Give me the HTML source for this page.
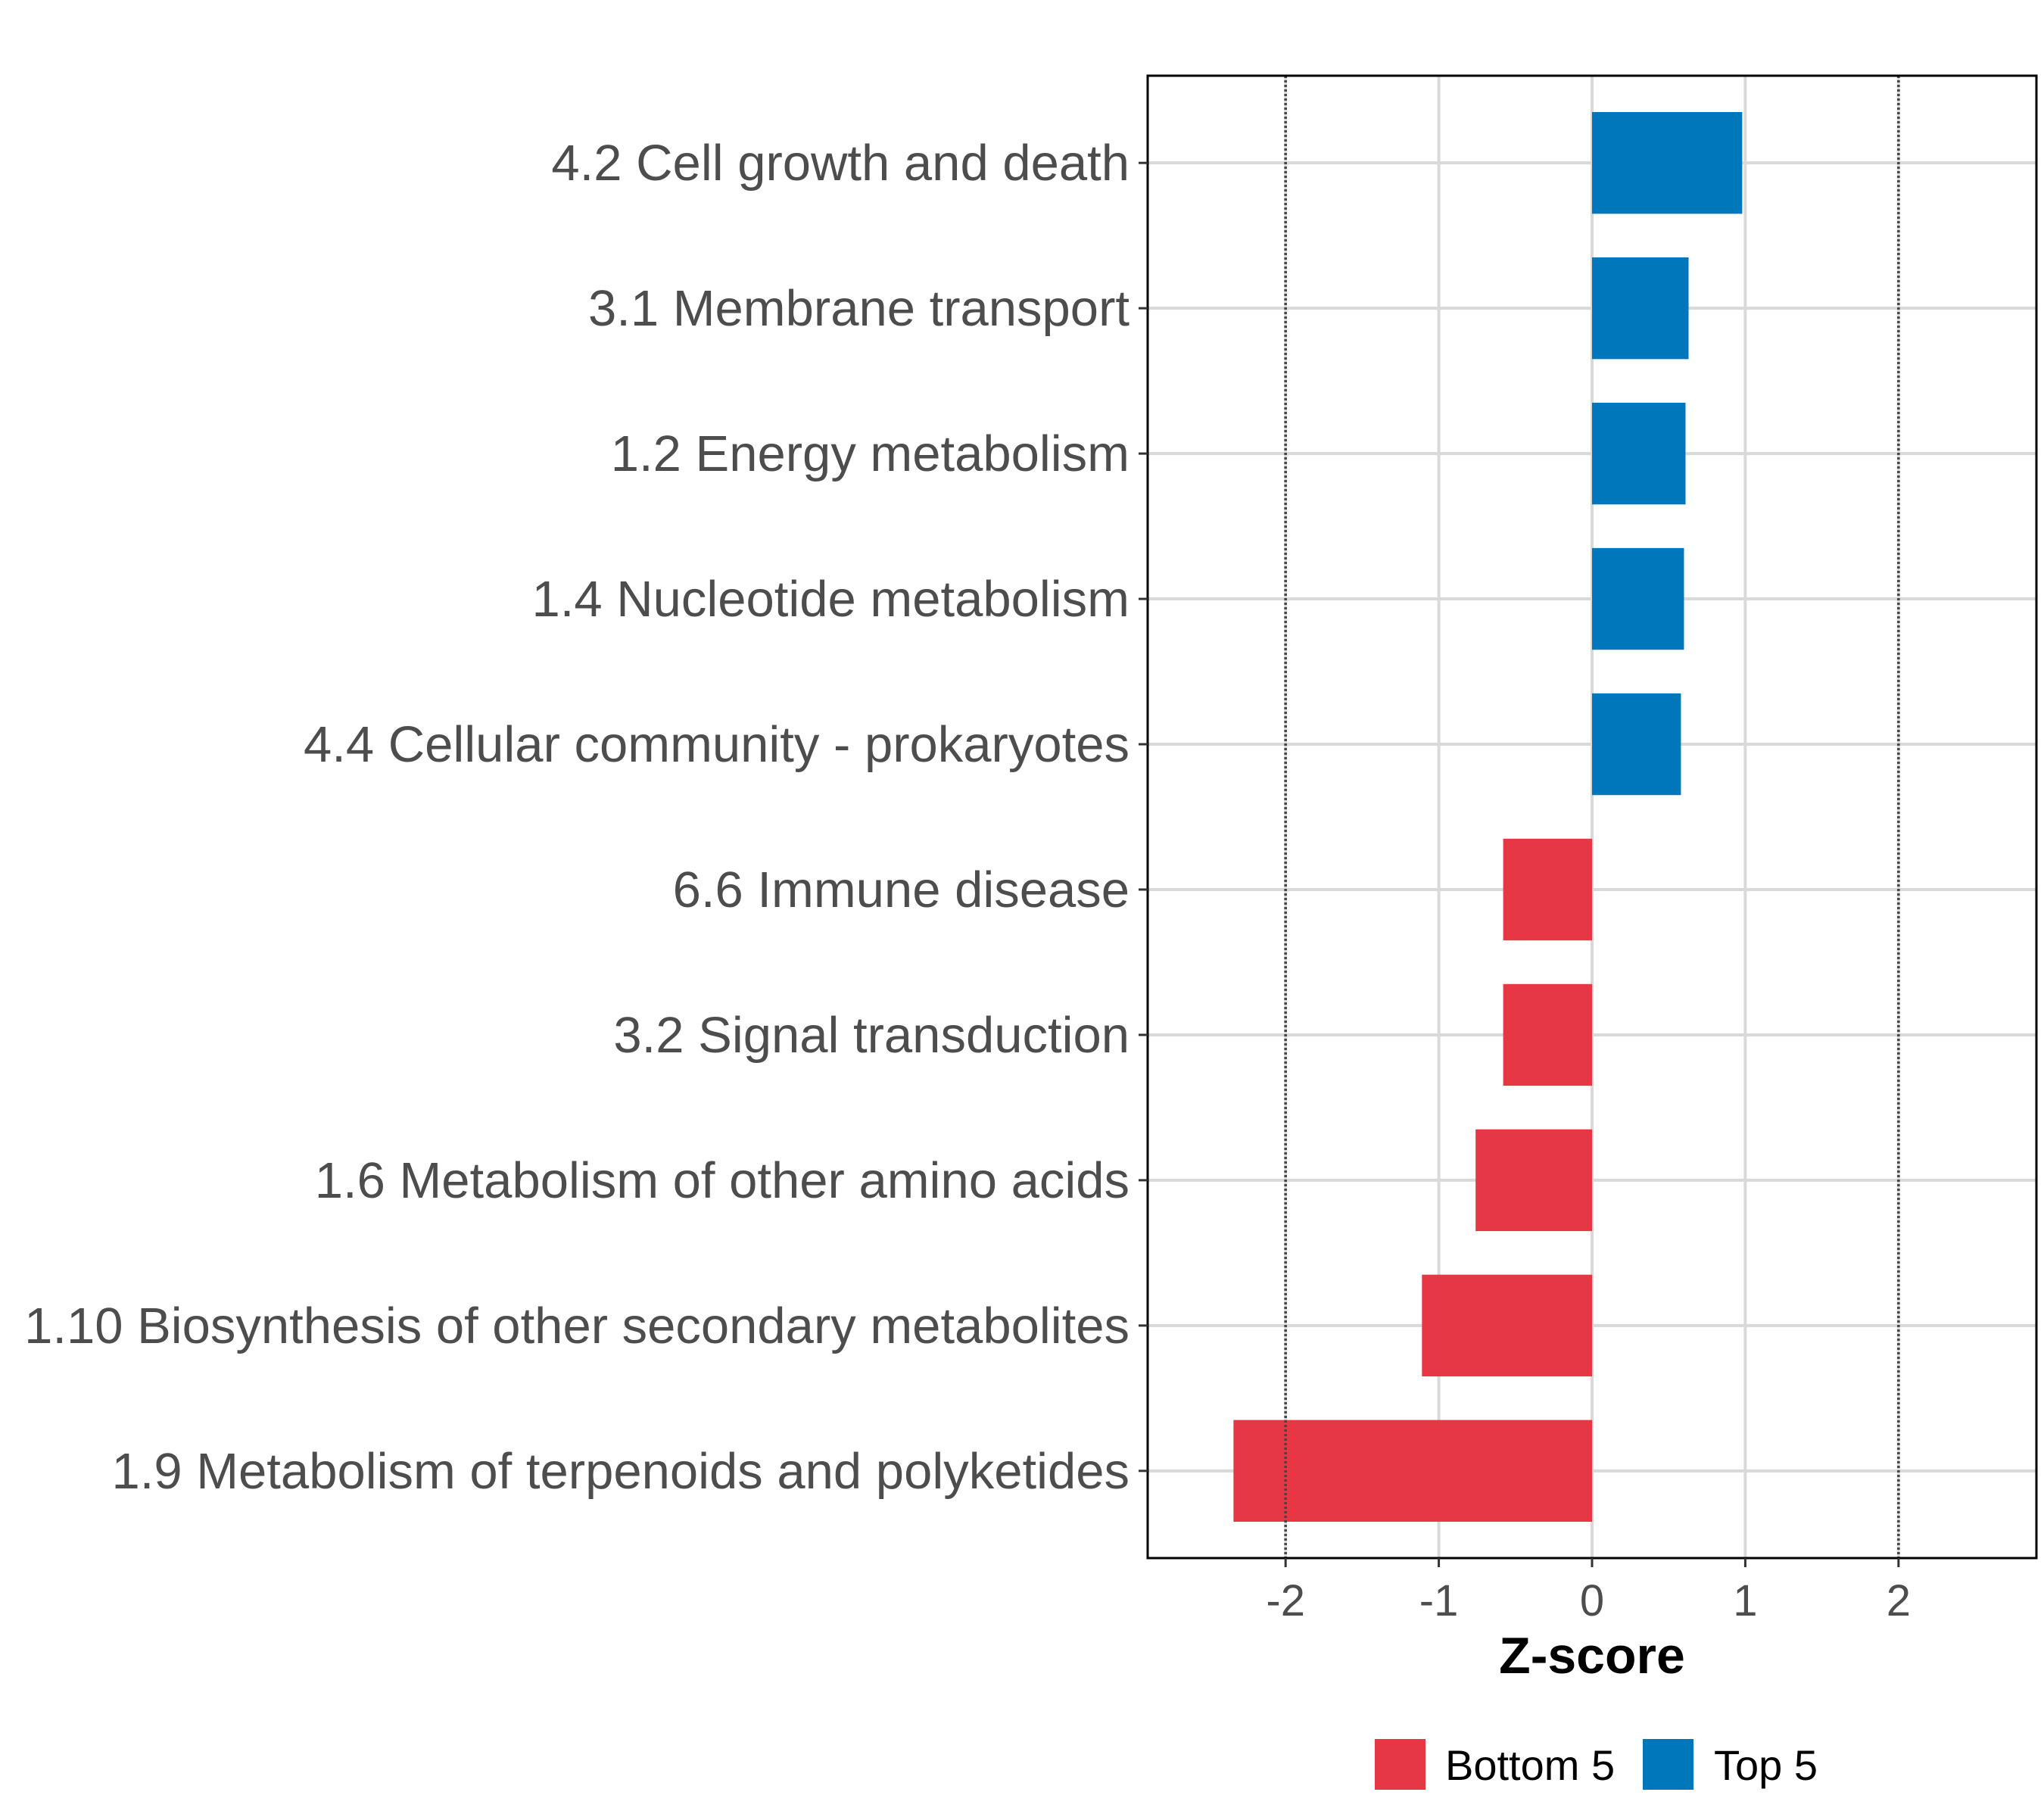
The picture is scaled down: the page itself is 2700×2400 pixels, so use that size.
<!DOCTYPE html>
<html><head><meta charset="utf-8"><style>
html,body{margin:0;padding:0;background:#fff;}
svg{display:block;font-family:"Liberation Sans",sans-serif;}
</style></head><body>
<svg id="chart" width="2700" height="2400" viewBox="0 0 2700 2400"></svg>
<script>
const categories = ["4.2 Cell growth and death","3.1 Membrane transport","1.2 Energy metabolism","1.4 Nucleotide metabolism","4.4 Cellular community - prokaryotes","6.6 Immune disease","3.2 Signal transduction","1.6 Metabolism of other amino acids","1.10 Biosynthesis of other secondary metabolites","1.9 Metabolism of terpenoids and polyketides"];
const values = [0.98,0.63,0.61,0.60,0.58,-0.58,-0.58,-0.76,-1.11,-2.34];
const groups = ["Top 5","Top 5","Top 5","Top 5","Top 5","Bottom 5","Bottom 5","Bottom 5","Bottom 5","Bottom 5"];
const xTicks = [-2,-1,0,1,2];
const xTickLabels = ["-2","-1","0","1","2"];
const refLines = [-2,2];

const NS="http://www.w3.org/2000/svg";
const svg=document.getElementById('chart');
const L=1516,R=2690,T=100,B=2058;
const xMin=-2.9,xMax=2.9;
const x=v=>L+(v-xMin)/(xMax-xMin)*(R-L);
const rowStep=(B-T)/(categories.length-1+1.2);
const y=i=>T+rowStep*(i+0.6);
const colors={"Top 5":"#0077bb","Bottom 5":"#e63744"};
function mk(tag,attrs,parent){const e=document.createElementNS(NS,tag);for(const k in attrs)e.setAttribute(k,attrs[k]);(parent||svg).appendChild(e);return e;}

xTicks.forEach((t,i)=>{const g=mk('line',{x1:x(t),x2:x(t),y1:T,y2:B,stroke:'#d9d9d9','stroke-width':4});

});
categories.forEach((c,i)=>{const g=mk('line',{x1:L,x2:R,y1:y(i),y2:y(i),stroke:'#d9d9d9','stroke-width':4});

});
const bh=rowStep*0.7;
values.forEach((v,i)=>{const x0=x(Math.min(0,v)),x1=x(Math.max(0,v));
const b=mk('rect',{x:x0,y:y(i)-bh/2,width:x1-x0,height:bh,fill:colors[groups[i]]});

});
refLines.forEach(r=>{const l=mk('line',{x1:x(r),x2:x(r),y1:T,y2:B,stroke:'#444','stroke-width':3.5,'stroke-dasharray':'3,3'});

});
const pb=mk('rect',{x:L,y:T,width:R-L,height:B-T,fill:'none',stroke:'#000','stroke-width':3});


categories.forEach((c,i)=>{
const tk=mk('line',{x1:L-12,x2:L,y1:y(i),y2:y(i),stroke:'#333','stroke-width':3});


const t=mk('text',{x:L-24,y:y(i)+23,'text-anchor':'end','font-size':67,fill:'#4d4d4d'});
t.textContent=c;

});
xTicks.forEach((t,i)=>{
const tk=mk('line',{x1:x(t),x2:x(t),y1:B,y2:B+12,stroke:'#333','stroke-width':3});


const tx=mk('text',{x:x(t),y:B+76,'text-anchor':'middle','font-size':58,fill:'#4d4d4d'});
tx.textContent=xTickLabels[i];

});
const xt=mk('text',{x:x(0),y:2210,'text-anchor':'middle','font-size':68,'font-weight':'bold',fill:'#000'});
xt.textContent='Z-score';


[["Bottom 5",1816,1909],["Top 5",2170,2264]].forEach(([lab,sx,tx])=>{
const s=mk('rect',{x:sx,y:2297,width:67,height:67,fill:colors[lab]});


const t=mk('text',{x:tx,y:2351,'font-size':56,fill:'#000'});
t.textContent=lab;

});
</script>
</body></html>
